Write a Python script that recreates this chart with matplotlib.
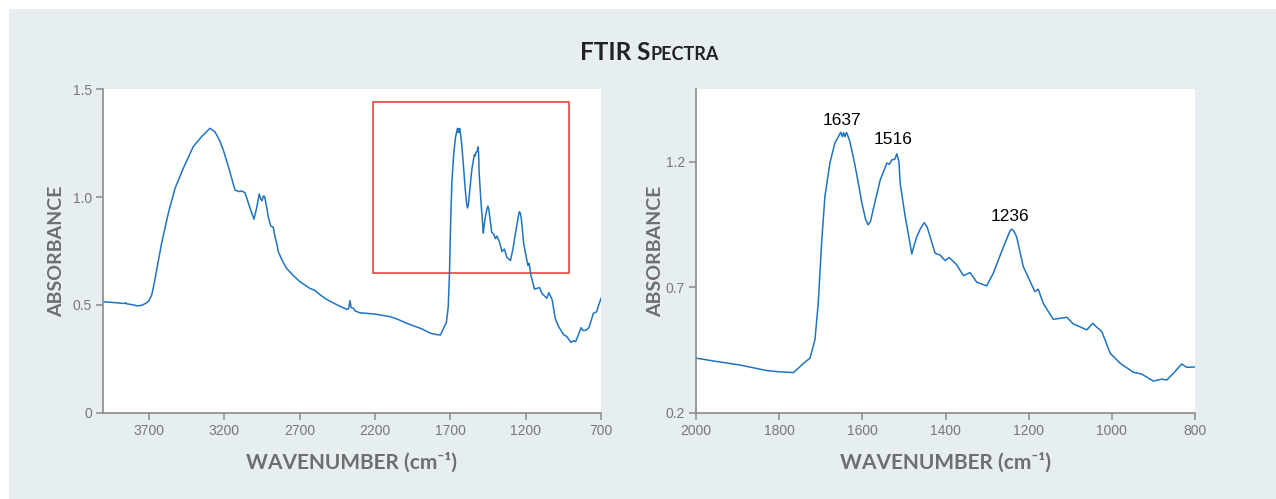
import matplotlib
matplotlib.use('Agg')
import matplotlib.pyplot as plt
from matplotlib.patches import Rectangle
from matplotlib.offsetbox import TextArea, HPacker, AnchoredOffsetbox

# spectrum (wavenumber in cm-1, absorbance)
wavenumber = [
    4000, 3950, 3900, 3860, 3855, 3850, 3800, 3780, 3750, 3730, 3715, 3700,
    3682, 3665, 3649, 3616, 3572, 3527, 3472, 3406, 3350, 3295, 3262, 3230,
    3207, 3173, 3129, 3100, 3085, 3063, 3030, 3003, 2985, 2968, 2958, 2950,
    2940, 2932, 2918, 2908, 2892, 2875, 2864, 2850, 2842, 2815, 2787, 2740,
    2698, 2632, 2600, 2560, 2521, 2450, 2388, 2375, 2366, 2358, 2344, 2330,
    2300, 2200, 2100, 2050, 1998, 1950, 1894, 1830, 1800, 1766, 1750, 1740,
    1726, 1714, 1706, 1698, 1690, 1678, 1666, 1656, 1652, 1648, 1645, 1642,
    1638, 1634, 1630, 1622, 1614, 1601, 1592, 1586, 1580, 1574, 1557, 1541,
    1535, 1529, 1522, 1517, 1512, 1509, 1497, 1488, 1481, 1475, 1469, 1460,
    1451, 1444, 1437, 1425, 1413, 1401, 1391, 1373, 1357, 1341, 1325, 1301,
    1285, 1265, 1245, 1241, 1236, 1229, 1213, 1185, 1177, 1165, 1141, 1108,
    1093, 1060, 1046, 1035, 1024, 1004, 980, 948, 928, 900, 880, 868,
    852, 832, 820, 800, 780, 760, 751, 729, 715, 700]
absorbance = [
    0.515, 0.512, 0.509, 0.507, 0.511, 0.506, 0.500, 0.496, 0.498, 0.505, 0.510, 0.520,
    0.546, 0.600, 0.662, 0.786, 0.924, 1.040, 1.133, 1.233, 1.280, 1.318, 1.302, 1.260,
    1.218, 1.141, 1.032, 1.025, 1.028, 1.020, 0.950, 0.897, 0.950, 1.014, 0.990, 0.983,
    1.005, 1.002, 0.950, 0.909, 0.866, 0.860, 0.817, 0.780, 0.747, 0.705, 0.670, 0.635,
    0.608, 0.577, 0.568, 0.545, 0.526, 0.500, 0.480, 0.483, 0.520, 0.488, 0.485, 0.472,
    0.464, 0.458, 0.446, 0.434, 0.418, 0.405, 0.391, 0.369, 0.364, 0.361, 0.384, 0.400,
    0.418, 0.491, 0.637, 0.876, 1.062, 1.195, 1.275, 1.305, 1.318, 1.300, 1.316, 1.300,
    1.317, 1.300, 1.281, 1.221, 1.155, 1.035, 0.970, 0.949, 0.965, 1.009, 1.128, 1.195,
    1.190, 1.208, 1.210, 1.232, 1.200, 1.115, 0.982, 0.900, 0.833, 0.870, 0.902, 0.935,
    0.958, 0.940, 0.902, 0.836, 0.829, 0.807, 0.819, 0.790, 0.747, 0.759, 0.721, 0.706,
    0.757, 0.843, 0.925, 0.932, 0.925, 0.902, 0.783, 0.683, 0.693, 0.637, 0.573, 0.581,
    0.555, 0.531, 0.557, 0.540, 0.524, 0.438, 0.398, 0.362, 0.355, 0.327, 0.335, 0.331,
    0.358, 0.395, 0.382, 0.383, 0.395, 0.440, 0.461, 0.469, 0.500, 0.531]

# labelled peaks: (text, x, y)
peak_labels = ['1637', '1516', '1236']
peak_x = [1650, 1525, 1245]
peak_y = [1.335, 1.258, 0.953]

# zoom box on the full spectrum
box_x = [2210, 915]
box_y = [0.65, 1.44]

left_xticks = [3700, 3200, 2700, 2200, 1700, 1200, 700]
left_yticks = [0, 0.5, 1.0, 1.5]
left_ylabels = ['0', '0.5', '1.0', '1.5']
right_xticks = [2000, 1800, 1600, 1400, 1200, 1000, 800]
right_yticks = [0.2, 0.7, 1.2]

line_color = '#1f74c1'
axis_gray = '#8a8a8a'
text_gray = '#6e6e6e'
bg = '#e7eef2'

fig = plt.figure(figsize=(12.76, 4.99), dpi=100)
fig.patch.set_facecolor('white')
fig.add_artist(Rectangle((9 / 1276, 0), 1, 1 - 9 / 499, transform=fig.transFigure,
                         facecolor=bg, edgecolor='none', zorder=-1))

ax1 = fig.add_axes([103 / 1276, 86 / 499, 498 / 1276, 324 / 499])
ax2 = fig.add_axes([696 / 1276, 86 / 499, 499 / 1276, 324 / 499])


def style(ax):
    for s in ['top', 'right']:
        ax.spines[s].set_visible(False)
    for s in ['left', 'bottom']:
        ax.spines[s].set_color(axis_gray)
        ax.spines[s].set_linewidth(1.2)
    ax.tick_params(direction='out', length=5, width=1.1, color=axis_gray,
                   labelcolor='#777777', labelsize=10, pad=3)
    for t in ax.get_xticklabels() + ax.get_yticklabels():
        t.set_family('Liberation Sans')
    ax.set_facecolor('white')


label_font = dict(family=['Lato', 'DejaVu Sans'], weight='bold', size=15, color=text_gray)
ylabel_font = dict(family=['Lato', 'DejaVu Sans'], weight='bold', size=14, color=text_gray)

# full spectrum
ax1.plot(wavenumber, absorbance, color=line_color, lw=1.1)
ax1.set_xlim(4005, 700)
ax1.set_ylim(0, 1.5)
ax1.set_xticks(left_xticks)
ax1.set_yticks(left_yticks)
ax1.set_yticklabels(left_ylabels)
ax1.add_patch(Rectangle((box_x[1], box_y[0]), box_x[0] - box_x[1], box_y[1] - box_y[0],
                        fill=False, edgecolor='#e8463d', lw=1.2))
style(ax1)
ax1.set_xlabel('WAVENUMBER (cm\u207b\u00b9)', va='center', **label_font)
ax1.set_ylabel('ABSORBANCE', va='center', **ylabel_font)
ax1.xaxis.set_label_coords(0.5, -0.154)
ax1.yaxis.set_label_coords(-0.094, 0.5)

# zoomed region
ax2.plot(wavenumber, absorbance, color=line_color, lw=1.1)
ax2.set_xlim(2000, 800)
ax2.set_ylim(0.2, 1.49)
ax2.set_xticks(right_xticks)
ax2.set_yticks(right_yticks)
for lab, x, y in zip(peak_labels, peak_x, peak_y):
    ax2.text(x, y, lab, ha='center', va='bottom', fontsize=12.5,
             family='Liberation Sans', color='black')
style(ax2)
ax2.set_xlabel('WAVENUMBER (cm\u207b\u00b9)', va='center', **label_font)
ax2.set_ylabel('ABSORBANCE', va='center', **ylabel_font)
ax2.xaxis.set_label_coords(0.5, -0.154)
ax2.yaxis.set_label_coords(-0.08, 0.5)

# title in small caps
big = TextArea('FTIR S', textprops=dict(family='Lato', weight='bold', size=17.5, color='#222222'))
small = TextArea('PECTRA', textprops=dict(family='Lato', weight='bold', size=13, color='#222222'))
title = HPacker(children=[big, small], align='baseline', pad=0, sep=0)
anchored = AnchoredOffsetbox(loc='center', child=title, frameon=False,
                             bbox_to_anchor=(649 / 1276, 1 - 52 / 499),
                             bbox_transform=fig.transFigure, pad=0, borderpad=0)
fig.add_artist(anchored)

fig.savefig('out.png', dpi=100, facecolor=fig.get_facecolor())
